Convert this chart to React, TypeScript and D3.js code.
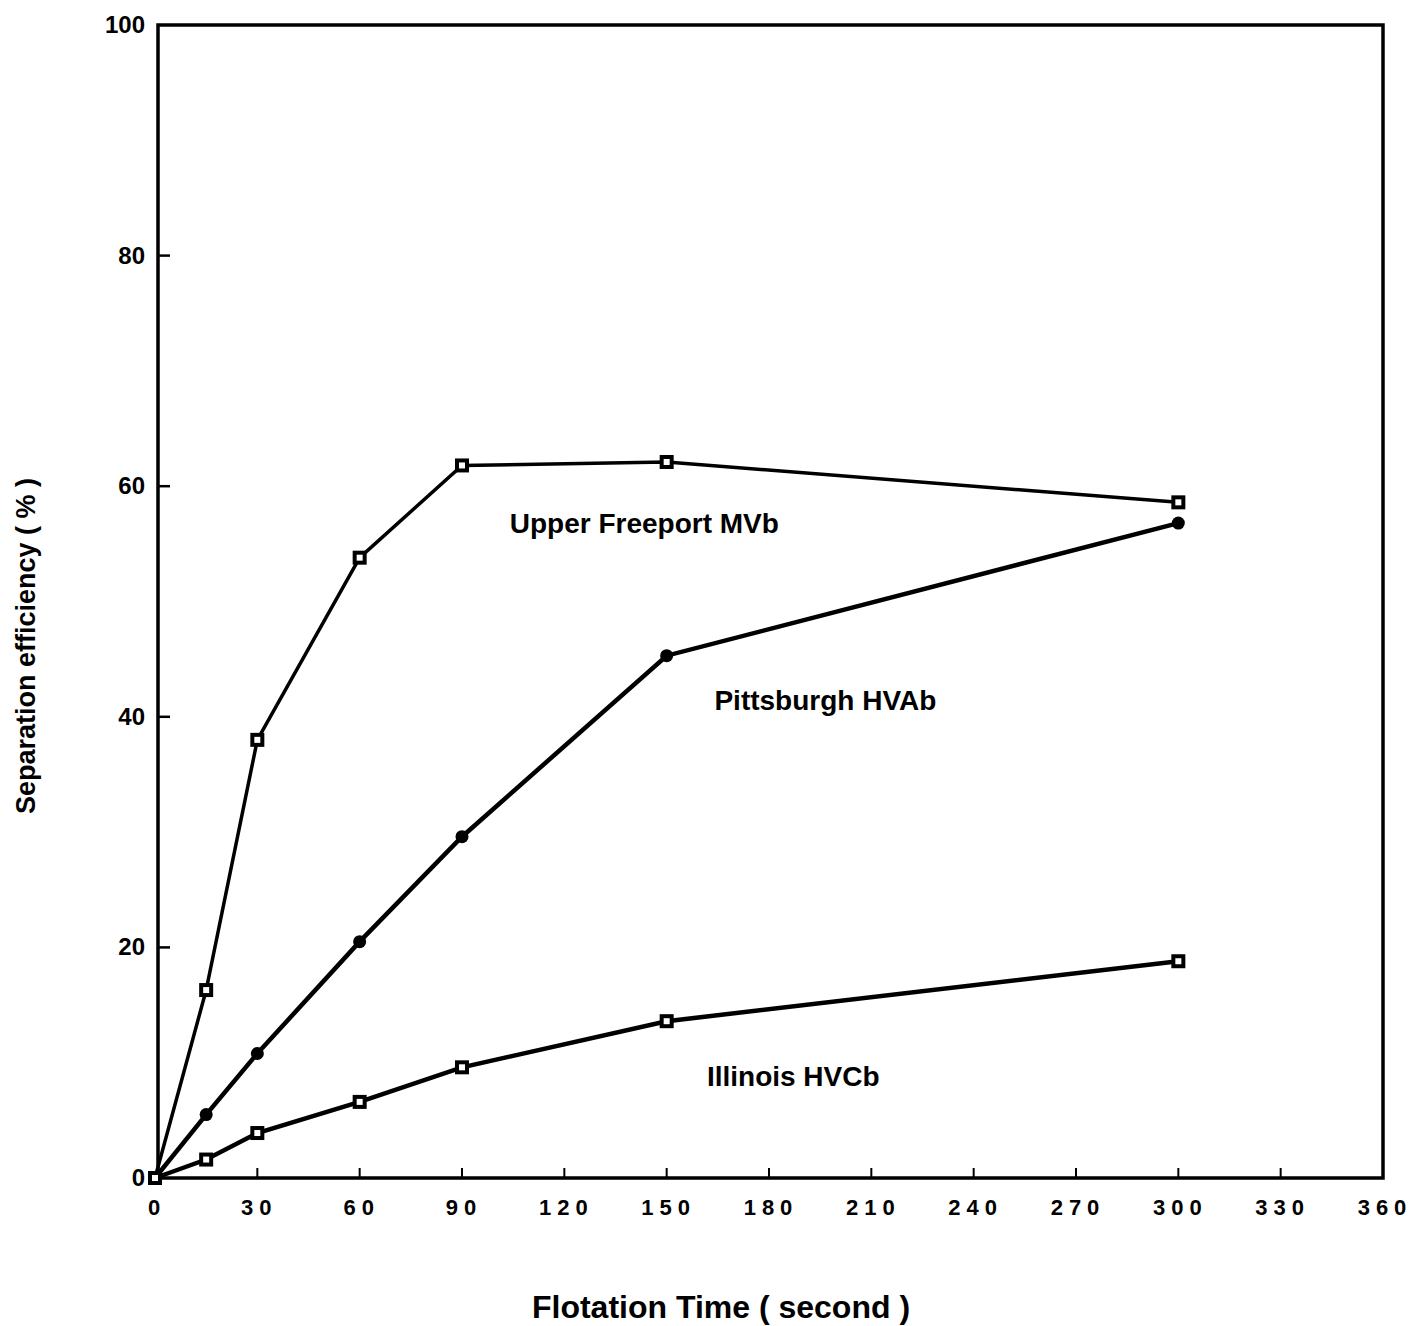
import { useEffect, useRef } from 'react'
import * as d3 from 'd3'

const times = [0, 15, 30, 60, 90, 150, 300]
const upperFreeport = [0, 16.3, 38.0, 53.8, 61.8, 62.1, 58.6]
const pittsburgh = [0, 5.5, 10.8, 20.5, 29.6, 45.3, 56.8]
const illinois = [0, 1.6, 3.9, 6.6, 9.6, 13.6, 18.8]
const xTicks = [0, 30, 60, 90, 120, 150, 180, 210, 240, 270, 300, 330, 360]
const yTicks = [0, 20, 40, 60, 80, 100]

const seriesLabels = [
  { name: 'Upper Freeport MVb', values: upperFreeport, marker: 'square', at: [104, 55.9] },
  { name: 'Pittsburgh HVAb', values: pittsburgh, marker: 'circle', at: [164, 40.6] },
  { name: 'Illinois HVCb', values: illinois, marker: 'square', at: [161.8, 8.0] },
]

const FONT = '"Liberation Sans", Arial, Helvetica, sans-serif'

export default function App() {
  const ref = useRef<SVGSVGElement>(null)

  useEffect(() => {
    if (!ref.current) return
    const width = 1413
    const height = 1326
    const svg = d3.select(ref.current)
    svg.selectAll('*').remove()

    const x = d3.scaleLinear().domain([0, 360]).range([155, 1383])
    const y = d3.scaleLinear().domain([0, 100]).range([1178, 25])

    svg.append('rect').attr('width', width).attr('height', height).attr('fill', '#fff')

    // frame
    svg
      .append('rect')
      .attr('x', 158)
      .attr('y', y(100))
      .attr('width', x(360) - 158)
      .attr('height', y(0) - y(100))
      .attr('fill', 'none')
      .attr('stroke', '#000')
      .attr('stroke-width', 3.5)

    // x ticks (inward)
    const xAxis = svg.append('g')
    xAxis
      .selectAll('line')
      .data(xTicks.slice(1, -1))
      .join('line')
      .attr('x1', (d) => x(d))
      .attr('x2', (d) => x(d))
      .attr('y1', y(0))
      .attr('y2', y(0) - 10)
      .attr('stroke', '#000')
      .attr('stroke-width', 2)
    xAxis
      .selectAll('text')
      .data(xTicks)
      .join('text')
      .attr('x', (d) => x(d) + 2)
      .attr('y', y(0) + 37)
      .attr('text-anchor', 'middle')
      .style('font-family', FONT)
      .style('font-weight', 'bold')
      .style('font-size', '22px')
      .style('letter-spacing', '6px')
      .text((d) => d)

    // y ticks (inward)
    const yAxis = svg.append('g')
    yAxis
      .selectAll('line')
      .data(yTicks.slice(1, -1))
      .join('line')
      .attr('x1', 158)
      .attr('x2', 170)
      .attr('y1', (d) => y(d))
      .attr('y2', (d) => y(d))
      .attr('stroke', '#000')
      .attr('stroke-width', 2.5)
    yAxis
      .selectAll('text')
      .data(yTicks)
      .join('text')
      .attr('x', 145)
      .attr('y', (d) => y(d) + 8)
      .attr('text-anchor', 'end')
      .style('font-family', FONT)
      .style('font-weight', 'bold')
      .style('font-size', '24px')
      .text((d) => d)

    const line = d3
      .line<number>()
      .x((_, i) => x(times[i]))
      .y((d) => y(d))

    seriesLabels.forEach((s, si) => {
      svg
        .append('path')
        .datum(s.values)
        .attr('d', line)
        .attr('fill', 'none')
        .attr('stroke', '#000')
        .attr('stroke-width', si === 0 ? 3.5 : 4.5)

      const g = svg.append('g')
      if (s.marker === 'square') {
        g.selectAll('rect.outer')
          .data(s.values)
          .join('rect')
          .attr('x', (_, i) => x(times[i]) - 7)
          .attr('y', (d) => y(d) - 7)
          .attr('width', 14)
          .attr('height', 14)
          .attr('fill', '#000')
        g.selectAll('rect.inner')
          .data(s.values)
          .join('rect')
          .attr('x', (_, i) => x(times[i]) - 3)
          .attr('y', (d) => y(d) - 3)
          .attr('width', 6)
          .attr('height', 6)
          .attr('fill', '#fff')
      } else {
        g.selectAll('circle')
          .data(s.values)
          .join('circle')
          .attr('cx', (_, i) => x(times[i]))
          .attr('cy', (d) => y(d))
          .attr('r', 6.5)
          .attr('fill', '#000')
      }

      svg
        .append('text')
        .attr('x', x(s.at[0]))
        .attr('y', y(s.at[1]))
        .style('font-family', FONT)
        .style('font-weight', 'bold')
        .style('font-size', '28px')
        .text(s.name)
    })

    svg
      .append('text')
      .attr('transform', `translate(35,646) rotate(-90)`)
      .attr('text-anchor', 'middle')
      .style('font-family', FONT)
      .style('font-weight', 'bold')
      .style('font-size', '27px')
      .text('Separation efficiency ( % )')

    svg
      .append('text')
      .attr('x', 721)
      .attr('y', 1318)
      .attr('text-anchor', 'middle')
      .style('font-family', FONT)
      .style('font-weight', 'bold')
      .style('font-size', '32px')
      .text('Flotation Time ( second )')
  }, [])

  return (
    <svg
      ref={ref}
      width={1413}
      height={1326}
      style={{ position: 'absolute', left: 0, top: 0, display: 'block' }}
    />
  )
}
